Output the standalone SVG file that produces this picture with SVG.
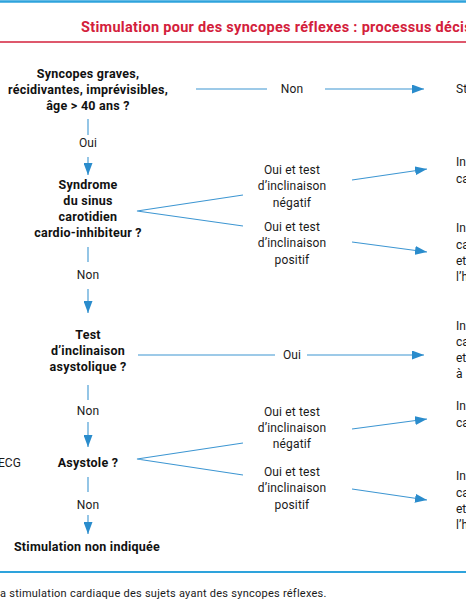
<svg xmlns="http://www.w3.org/2000/svg" width="466" height="600" viewBox="0 0 466 600">
<defs>
<marker id="ah" markerUnits="userSpaceOnUse" markerWidth="12" markerHeight="9" refX="12" refY="4.5" orient="auto">
<path d="M0,0 L12,4.5 L0,9 z" fill="#2a8ccc"/>
</marker>
</defs>
<style>
.q{font-family:Roboto,"Liberation Sans",sans-serif;font-size:12.5px;font-weight:bold;fill:#111;text-anchor:middle;letter-spacing:0.25px}
.l{font-family:Roboto,"Liberation Sans",sans-serif;font-size:12px;fill:#1a1a1a;text-anchor:middle;letter-spacing:0.15px}
.r{font-family:Roboto,"Liberation Sans",sans-serif;font-size:12px;fill:#1a1a1a}
.c{stroke:#3d96d2;stroke-width:1.1;fill:none}
.a{stroke:#3d96d2;stroke-width:1.1;fill:none;marker-end:url(#ah)}
</style>
<rect width="466" height="600" fill="#fff"/>
<line x1="0" y1="1.5" x2="466" y2="1.5" stroke="#2ea3dc" stroke-width="2.5"/>
<text x="81" y="32" font-family="Roboto,'Liberation Sans',sans-serif" font-size="14.5" font-weight="bold" letter-spacing="0.3" fill="#d3203b">Stimulation pour des syncopes réflexes : processus décisi</text>
<line x1="0" y1="42" x2="466" y2="42" stroke="#d3203b" stroke-width="1.5"/>

<g id="q1"><text class="q" x="88" y="78">Syncopes graves,</text><text class="q" x="88" y="94">récidivantes, imprévisibles,</text><text class="q" x="88" y="110">âge &gt; 40 ans ?</text></g>
<g id="q2"><text class="q" x="88" y="189">Syndrome</text><text class="q" x="88" y="205">du sinus</text><text class="q" x="88" y="221">carotidien</text><text class="q" x="88" y="237">cardio-inhibiteur ?</text></g>
<g id="q3"><text class="q" x="88" y="339">Test</text><text class="q" x="88" y="355">d’inclinaison</text><text class="q" x="88" y="371">asystolique ?</text></g>
<g id="q4"><text class="q" x="88" y="467">Asystole ?</text></g>
<g id="ecg"><text class="r" x="-2" y="467">ECG</text></g>
<g id="end"><text class="q" x="87" y="551">Stimulation non indiquée</text></g>

<g id="r1"><text class="r" x="456" y="93">St</text></g>
<g id="r2"><text class="r" x="456" y="166">In</text><text class="r" x="456" y="183">ca</text></g>
<g id="r3"><text class="r" x="456" y="232">In</text><text class="r" x="456" y="249">ca</text><text class="r" x="456" y="265">et</text><text class="r" x="456" y="281">l’h</text></g>
<g id="r4"><text class="r" x="456" y="330">In</text><text class="r" x="456" y="346">ca</text><text class="r" x="456" y="362">et</text><text class="r" x="456" y="378">à</text></g>
<g id="r5"><text class="r" x="456" y="410">In</text><text class="r" x="456" y="427">ca</text></g>
<g id="r6"><text class="r" x="456" y="480">In</text><text class="r" x="456" y="497">ca</text><text class="r" x="456" y="513">et</text><text class="r" x="456" y="529">l’h</text></g>

<g id="connectors">
<line class="c" x1="196" y1="89" x2="267" y2="89"/>
<line class="a" x1="325" y1="89" x2="424" y2="89"/>
<line class="c" x1="88" y1="119" x2="88" y2="135"/>
<line class="a" x1="88" y1="157" x2="88" y2="175"/>
<polyline class="c" points="243,195 137,211 243,226"/>
<line class="a" x1="352" y1="180" x2="427" y2="169"/>
<line class="a" x1="352" y1="242" x2="427" y2="252"/>
<line class="c" x1="88" y1="247" x2="88" y2="262"/>
<line class="a" x1="88" y1="289" x2="88" y2="313"/>
<line class="c" x1="138" y1="355" x2="275" y2="355"/>
<line class="a" x1="307" y1="355" x2="424" y2="355"/>
<line class="c" x1="88" y1="385" x2="88" y2="400"/>
<line class="a" x1="88" y1="422" x2="88" y2="447"/>
<polyline class="c" points="243,443 137,459 243,475"/>
<line class="a" x1="352" y1="429" x2="427" y2="419"/>
<line class="a" x1="352" y1="489" x2="427" y2="500"/>
<line class="c" x1="88" y1="477" x2="88" y2="492"/>
<line class="a" x1="88" y1="515" x2="88" y2="534"/>
</g>
<g id="labels">
<text class="l" x="292" y="93">Non</text>
<text class="l" x="88" y="147">Oui</text>
<text class="l" x="292" y="174">Oui et test</text><text class="l" x="292" y="190">d’inclinaison</text><text class="l" x="292" y="207">négatif</text>
<text class="l" x="292" y="231">Oui et test</text><text class="l" x="292" y="247">d’inclinaison</text><text class="l" x="292" y="264">positif</text>
<text class="l" x="88" y="279">Non</text>
<text class="l" x="292" y="359">Oui</text>
<text class="l" x="88" y="415">Non</text>
<text class="l" x="292" y="416">Oui et test</text><text class="l" x="292" y="432">d’inclinaison</text><text class="l" x="292" y="448">négatif</text>
<text class="l" x="292" y="476">Oui et test</text><text class="l" x="292" y="492">d’inclinaison</text><text class="l" x="292" y="509">positif</text>
<text class="l" x="88" y="509">Non</text>
</g>
<line x1="0" y1="572" x2="466" y2="572" stroke="#2ea3dc" stroke-width="2"/>
<text x="0" y="597" font-family="Roboto,'Liberation Sans',sans-serif" font-size="11" letter-spacing="0.25" fill="#1a1a1a">a stimulation cardiaque des sujets ayant des syncopes réflexes.</text>
</svg>
